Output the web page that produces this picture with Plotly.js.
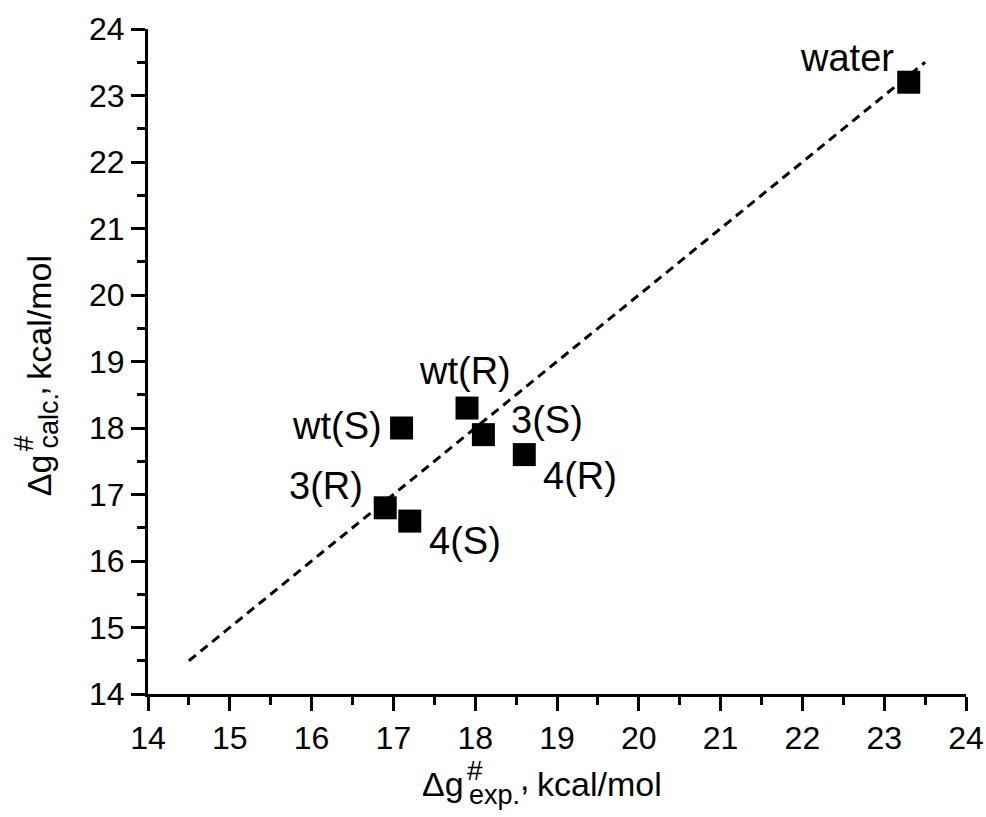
<!DOCTYPE html>
<html>
<head>
<meta charset="utf-8">
<script src="https://cdn.plot.ly/plotly-3.0.1.min.js"></script>
<style>html,body{margin:0;padding:0;background:#fff;}#chart{width:986px;height:817px;}</style>
</head>
<body>
<div id="chart"></div>
<script>
// Data
const labels = ["water", "wt(R)", "3(S)", "wt(S)", "4(R)", "3(R)", "4(S)"];
const expValues = [23.3, 17.9, 18.1, 17.1, 18.6, 16.9, 17.2];
const calcValues = [23.2, 18.3, 17.9, 18.0, 17.6, 16.8, 16.6];
const diagX = [14.5, 23.5];
const diagY = [14.5, 23.5];
const tickVals = [14, 15, 16, 17, 18, 19, 20, 21, 22, 23, 24];

// label placement offsets (pixels) per point
const labelAnchor = ["right", "center", "left", "right", "left", "right", "left"];
const labelDx = [-13, -2, 26, -18, 17, -20, 17];
const labelDy = [24, 37, 15, 2, -21, 22, -20];

const FONT = "Arial, 'Liberation Sans', sans-serif";

const traces = [
  {
    x: diagX, y: diagY, mode: "lines", type: "scatter",
    line: {color: "#000", width: 3, dash: "9px,6px"},
    hoverinfo: "skip", showlegend: false
  },
  {
    x: expValues, y: calcValues, mode: "markers", type: "scatter",
    marker: {symbol: "square", size: 23, color: "#000", line: {width: 0}},
    text: labels, showlegend: false
  }
];

const pointAnnotations = labels.map((t, i) => ({
  x: expValues[i], y: calcValues[i], xref: "x", yref: "y",
  text: t, showarrow: false,
  xanchor: labelAnchor[i], yanchor: "middle",
  xshift: labelDx[i], yshift: labelDy[i],
  font: {family: FONT, size: 38, color: "#000"}
}));

const L = 148, R = 20, T = 29, B = 123;
const W = 986 - L - R, H = 817 - T - B;
const px = v => (v - L) / W;
const py = v => (817 - B - v) / H;
const ASC = 0.905;

// horizontal text piece: left edge and baseline in pixels
function hPiece(text, left, baseline, size) {
  return {
    xref: "paper", yref: "paper",
    x: px(left - 1), y: py(baseline - ASC * size - 1),
    xanchor: "left", yanchor: "top", showarrow: false,
    text: text, font: {family: FONT, size: size, color: "#000"}
  };
}
// vertical (rotated -90) text piece: baseline x and start y in pixels
function vPiece(text, baselineX, startY, size) {
  return {
    xref: "paper", yref: "paper",
    x: px(baselineX - ASC * size - 1), y: py(startY + 1),
    xanchor: "left", yanchor: "bottom", showarrow: false, textangle: -90,
    text: text, font: {family: FONT, size: size, color: "#000"}
  };
}

const titleAnnotations = [
  hPiece("Δg", 421, 795, 34),
  hPiece("#", 466, 779, 28),
  hPiece("exp.", 468, 803, 27),
  hPiece(",", 519, 789, 34),
  hPiece("kcal/mol", 536, 795, 34),

  vPiece("Δg", 50, 497, 34),
  vPiece("#", 33, 452, 28),
  vPiece("calc.", 57, 450, 27),
  vPiece(",", 44, 397, 34),
  vPiece("kcal/mol", 50, 381, 34)
];

const axisCommon = {
  range: [14, 24], tickmode: "array", tickvals: tickVals,
  ticktext: tickVals.map(String),
  showgrid: false, zeroline: false, showline: true,
  linecolor: "#000", linewidth: 3,
  ticks: "outside", ticklen: 14, tickwidth: 3, tickcolor: "#000",
  tickfont: {family: FONT, size: 32, color: "#000"},
  minor: {dtick: 0.5, tick0: 14, ticks: "outside", ticklen: 8, tickwidth: 3, tickcolor: "#000", showgrid: false},
  fixedrange: true
};

const layout = {
  width: 986, height: 817,
  margin: {l: L, r: R, t: T, b: B, pad: 0},
  paper_bgcolor: "#fff", plot_bgcolor: "#fff",
  xaxis: Object.assign({}, axisCommon, {mirror: false}),
  yaxis: Object.assign({}, axisCommon, {mirror: false}),
  annotations: pointAnnotations.concat(titleAnnotations),
  showlegend: false
};

Plotly.newPlot("chart", traces, layout, {staticPlot: true, displayModeBar: false});
</script>
</body>
</html>
